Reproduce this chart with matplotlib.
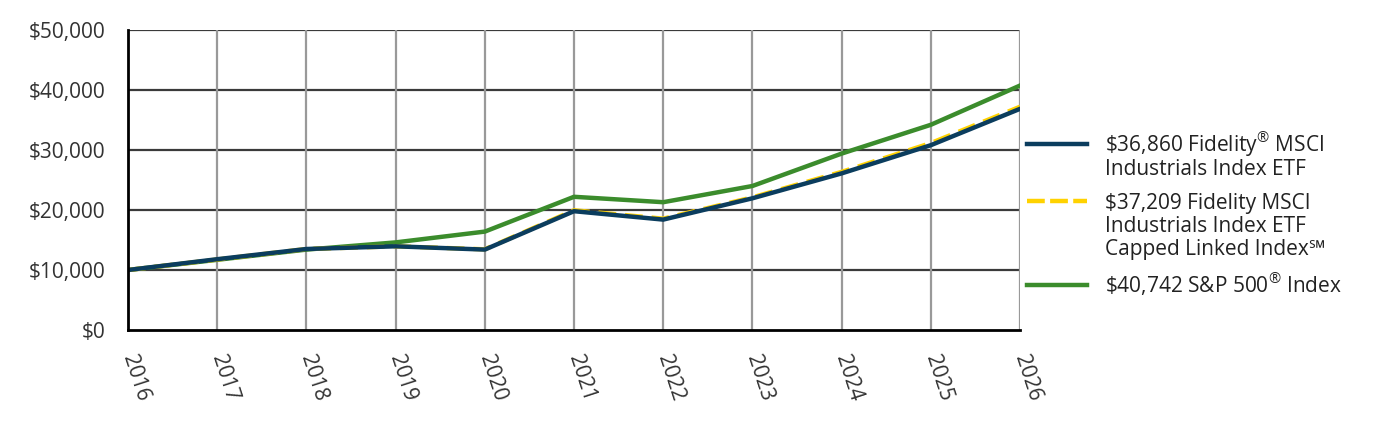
import matplotlib
matplotlib.use("Agg")
import matplotlib.pyplot as plt
from matplotlib.lines import Line2D

plt.rcParams['font.family'] = ['Open Sans', 'DejaVu Sans']
plt.rcParams['mathtext.fontset'] = 'custom'
plt.rcParams['mathtext.rm'] = 'Open Sans'

years = ["2016", "2017", "2018", "2019", "2020", "2021", "2022", "2023", "2024", "2025", "2026"]
fund = [10000, 11800, 13500, 13950, 13400, 19800, 18400, 21950, 26100, 30800, 36860]
capped_index = [10000, 11750, 13500, 13950, 13450, 19950, 18550, 22100, 26350, 31150, 37209]
sp500 = [10000, 11700, 13400, 14600, 16400, 22200, 21300, 24000, 29400, 34200, 40742]

labels = [
    ["\\$36,860 Fidelity$^{®}$ MSCI", "Industrials Index ETF"],
    ["\\$37,209 Fidelity MSCI", "Industrials Index ETF", "Capped Linked Index\u2120"],
    ["\\$40,742 S&P 500$^{®}$ Index"],
]
colors = ["#0b3d5e", "#ffd200", "#3b8c2c"]
yticks = [0, 10000, 20000, 30000, 40000, 50000]

fig = plt.figure(figsize=(13.92, 4.32), dpi=100)
ax = fig.add_axes([128 / 1392, 102 / 432, 892 / 1392, 300 / 432])

x = list(range(len(years)))
ax.plot(x, sp500, color=colors[2], lw=3.2, zorder=3, solid_joinstyle='miter')
ax.plot(x, capped_index, color=colors[1], lw=3.2, ls=(0, (4, 2)), zorder=4)
ax.plot(x, fund, color=colors[0], lw=3.2, zorder=5, solid_joinstyle='miter')

ax.set_xlim(0, len(years) - 1)
ax.set_ylim(0, 50000)
ax.set_yticks(yticks)
ax.set_yticklabels(["${:,}".format(v) for v in yticks])
ax.set_xticks(x)
ax.set_xticklabels(years, rotation=-72, rotation_mode='anchor', ha='left', va='center')

for v in yticks[1:]:
    ax.axhline(v, color="#3a3a3a", lw=1.6, zorder=1)
for i in x[1:]:
    ax.axvline(i, color="#999999", lw=1.6, zorder=1)

for s in ["top", "right"]:
    ax.spines[s].set_visible(False)
for s in ["left", "bottom"]:
    ax.spines[s].set_color("black")
    ax.spines[s].set_linewidth(2)
    ax.spines[s].set_zorder(6)

ax.tick_params(axis='y', length=0, pad=16, labelsize=15, labelcolor="#333333")
ax.tick_params(axis='x', length=0, pad=18, labelsize=15, labelcolor="#333333")

# legend drawn by hand so the handle lines up with the first text line
handle_y = [144, 201, 285]
styles = ["-", (0, (4, 1.2)), "-"]
for lines, col, hy, st in zip(labels, colors, handle_y, styles):
    yf = 1 - hy / 432
    fig.add_artist(Line2D([1027 / 1392, 1087 / 1392], [yf, yf], color=col, lw=3.2, ls=st))
    for k, txt in enumerate(lines):
        base = hy + 8 + k * 23
        fig.text(1105 / 1392, 1 - base / 432, txt, fontsize=15, color="#222222",
                 ha='left', va='baseline')

fig.savefig("out.png", dpi=100)
